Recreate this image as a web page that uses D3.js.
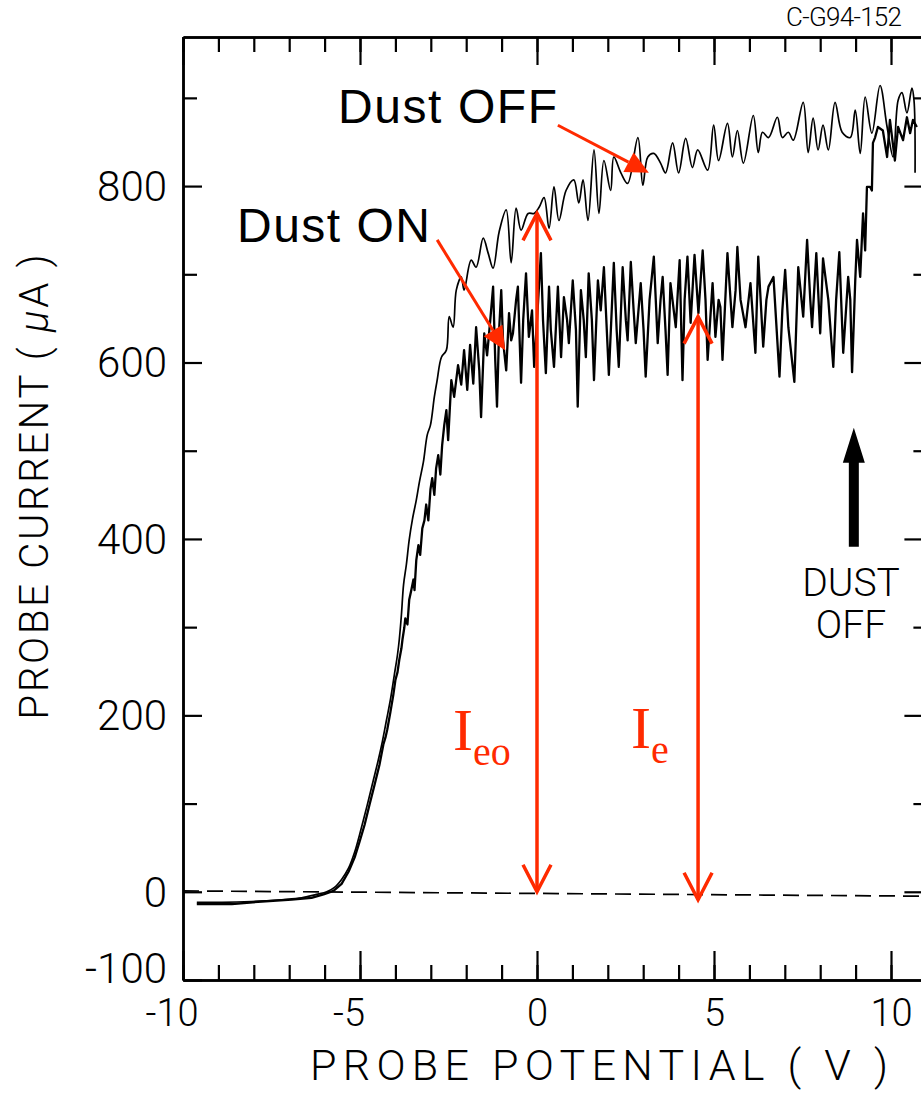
<!DOCTYPE html>
<html>
<head>
<meta charset="utf-8">
<script src="https://cdnjs.cloudflare.com/ajax/libs/d3/7.8.5/d3.min.js"></script>
<style>
  body { margin: 0; background: #fff; }
  svg { display: block; }
</style>
</head>
<body>
<div class="canvas"></div>
<script>
// ===========DATA=============================================
// probe potential (V), probe current (uA)
const dustOff = [
  [-9.61,-12],[-8.9,-12],[-8.06,-11],[-7.21,-9],[-6.65,-7],[-6.23,-3],[-5.94,0],[-5.72,5],
  [-5.52,14],[-5.32,27],[-5.15,45],[-5.01,65],[-4.9,82],[-4.76,104],[-4.62,127],[-4.48,150],
  [-4.37,170],[-4.25,195],[-4.14,218],[-4.03,246],[-3.94,269],[-3.89,286],[-3.83,314],[-3.77,348],
  [-3.69,371],[-3.61,399],[-3.52,422],[-3.41,444],[-3.32,465],[-3.21,487],[-3.1,518],[-3.01,529],
  [-2.9,561],[-2.82,580],[-2.7,606],[-2.56,614],[-2.48,652],[-2.37,640],[-2.28,682],[-2.14,697],
  [-2.06,682],[-1.86,716],[-1.72,708],[-1.52,741],[-1.38,724],[-1.24,707],[-1.07,748],[-0.87,773],
  [-0.73,713],[-0.59,775],[-0.45,750],[-0.25,769],[-0.08,769],[0.06,776],[0.2,787],[0.34,752],
  [0.48,799],[0.62,761],[0.82,795],[1.04,807],[1.18,781],[1.3,807],[1.44,761],[1.61,841],
  [1.75,769],[1.89,829],[2.08,795],[2.17,833],[2.37,815],[2.56,803],[2.85,855],[2.99,801],
  [3.13,833],[3.3,837],[3.49,826],[3.63,815],[3.83,849],[4.0,815],[4.2,854],[4.39,821],
  [4.54,841],[4.82,818],[4.99,869],[5.13,829],[5.38,871],[5.52,833],[5.66,863],[5.83,826],
  [6.11,880],[6.25,838],[6.37,861],[6.54,855],[6.79,878],[6.93,855],[7.1,861],[7.24,852],
  [7.52,895],[7.66,838],[7.8,877],[7.94,841],[8.08,869],[8.23,841],[8.42,895],[8.62,861],
  [8.85,855],[8.99,886],[9.13,837],[9.27,901],[9.46,860],[9.69,914],[9.89,867],[10.06,833],
  [10.2,897],[10.31,906],[10.45,883],[10.59,911],[10.65,897],[10.68,815]
];

const dustOn = [
  [-9.61,-14],[-8.62,-14],[-7.77,-11],[-6.93,-9],[-6.37,-7],[-6.03,-3],[-5.75,1],[-5.52,9],
  [-5.32,23],[-5.15,39],[-5.01,57],[-4.87,76],[-4.73,99],[-4.59,121],[-4.45,144],[-4.34,167],
  [-4.28,175],[-4.23,184],[-4.14,204],[-4.06,223],[-4.0,240],[-3.94,249],[-3.89,263],[-3.83,276],
  [-3.8,286],[-3.75,299],[-3.72,310],[-3.66,303],[-3.61,331],[-3.55,342],[-3.49,354],[-3.46,342],
  [-3.41,376],[-3.35,393],[-3.3,382],[-3.24,412],[-3.18,421],[-3.13,439],[-3.07,421],[-3.01,456],
  [-2.96,469],[-2.9,450],[-2.85,480],[-2.79,495],[-2.73,473],[-2.68,506],[-2.62,529],[-2.56,546],
  [-2.51,512],[-2.42,580],[-2.34,561],[-2.23,597],[-2.14,575],[-2.06,614],[-1.97,569],[-1.89,620],
  [-1.8,576],[-1.72,640],[-1.63,591],[-1.58,538],[-1.49,633],[-1.41,608],[-1.32,648],[-1.24,686],
  [-1.18,603],[-1.13,550],[-1.07,637],[-1.01,682],[-0.96,625],[-0.87,591],[-0.79,656],[-0.73,625],
  [-0.68,633],[-0.59,671],[-0.54,686],[-0.45,577],[-0.39,648],[-0.31,701],[-0.23,629],[-0.14,659],
  [-0.08,595],[0.0,648],[0.11,724],[0.17,648],[0.25,588],[0.34,686],[0.39,637],[0.48,595],
  [0.59,686],[0.68,606],[0.76,674],[0.85,648],[0.9,622],[1.01,693],[1.1,637],[1.15,550],
  [1.24,682],[1.32,648],[1.38,606],[1.46,701],[1.55,648],[1.61,580],[1.72,693],[1.8,659],
  [1.89,708],[2.03,586],[2.17,713],[2.25,637],[2.31,595],[2.42,708],[2.51,648],[2.56,625],
  [2.65,714],[2.73,659],[2.79,622],[2.93,690],[3.01,637],[3.07,584],[3.18,671],[3.3,720],
  [3.41,622],[3.49,671],[3.55,697],[3.63,637],[3.69,586],[3.77,690],[3.92,640],[4.03,716],
  [4.11,580],[4.17,671],[4.25,720],[4.34,645],[4.45,722],[4.56,656],[4.68,727],[4.76,671],
  [4.82,603],[4.96,690],[5.04,629],[5.13,671],[5.18,663],[5.24,603],[5.38,724],[5.52,640],
  [5.61,682],[5.66,731],[5.75,671],[5.89,640],[6.03,690],[6.17,611],[6.25,720],[6.39,618],
  [6.48,671],[6.54,686],[6.68,697],[6.85,584],[6.93,659],[7.01,705],[7.1,640],[7.27,578],
  [7.38,708],[7.52,652],[7.63,739],[7.72,671],[7.77,640],[7.89,724],[8.0,633],[8.08,718],
  [8.23,671],[8.37,595],[8.45,671],[8.54,725],[8.65,611],[8.79,697],[8.85,671],[8.9,589],
  [8.99,693],[9.04,739],[9.13,697],[9.21,769],[9.27,727],[9.32,799],[9.41,799],[9.46,795],
  [9.49,849],[9.55,855],[9.63,867],[9.77,863],[9.89,833],[9.97,875],[10.11,829],[10.2,867],
  [10.34,852],[10.45,878],[10.54,860],[10.62,875],[10.73,867]
];

// tick values
const xMajorTicks = [-10, -5, 0, 5, 10];
const xMinorTicks = d3.range(-10, 12);
const yLabelTicks = [-100, 0, 200, 400, 600, 800];
const yMinorTicks = [100, 300, 500, 700, 900];

// zero reference (dashed), slightly tilted like the recorder trace
const zeroLine = [[-10, 1], [11, -5]];

// I_eo and I_e measuring arrows (V, top uA, bottom uA)
const currentArrows = [
  {name: 'eo', v: 0, top: 769, bottom: 0},
  {name: 'e', v: 4.55, top: 652, bottom: -9}
];

// pointers from the "Dust OFF" / "Dust ON" labels to the traces
const pointers = [
  {from: [0.59, 869], to: [3.16, 815]},
  {from: [-2.82, 739], to: [-0.9, 614]}
];

// black "DUST OFF" marker arrow
const dustOffMarker = {v: 8.95, top: 526, bottom: 391};

// ===========SETUP=======================
const width = 921, height = 1093;
const red = '#ff2a00';
const axisFont = 'Roboto, "Liberation Sans", sans-serif';

const svg = d3.select('.canvas')
  .append('svg')
    .attr('width', width)
    .attr('height', height);

svg.append('rect').attr('width', width).attr('height', height).attr('fill', '#fff');

const x = d3.scaleLinear().domain([-10, 11]).range([183, 926.4]);
const y = d3.scaleLinear().domain([-100, 969]).range([980, 37]);

// ===========AXES (ticks point inward)=======================
const styleAxis = (g) => {
  g.select('.domain').attr('stroke-width', 2.5);
  g.selectAll('.tick line').attr('stroke-width', 2.2);
  g.attr('font-family', axisFont).attr('font-weight', 300);
};

// bottom
svg.append('g')
  .attr('transform', `translate(0, ${y(-100)})`)
  .call(d3.axisBottom(x).tickValues(xMinorTicks).tickSize(-15).tickSizeOuter(0).tickFormat(''))
  .call(styleAxis);
const xAxisGroup = svg.append('g')
  .attr('transform', `translate(0, ${y(-100)})`)
  .call(d3.axisBottom(x).tickValues(xMajorTicks).tickSize(-29).tickSizeOuter(0)
    .tickPadding(19).tickFormat(d => String(d)))
  .call(styleAxis)
  .attr('font-size', 38);
xAxisGroup.selectAll('text')
  .attr('fill', '#000')
  .attr('dx', d => d < 0 ? '-0.3em' : 0);

// top
svg.append('g')
  .attr('transform', `translate(0, ${y(969)})`)
  .call(d3.axisTop(x).tickValues(xMinorTicks).tickSize(-15).tickSizeOuter(0).tickFormat(''))
  .call(styleAxis);
svg.append('g')
  .attr('transform', `translate(0, ${y(969)})`)
  .call(d3.axisTop(x).tickValues(xMajorTicks).tickSize(-28).tickSizeOuter(0).tickFormat(''))
  .call(styleAxis);

// left
svg.append('g')
  .attr('transform', `translate(${x(-10)}, 0)`)
  .call(d3.axisLeft(y).tickValues(yMinorTicks).tickSize(-14).tickSizeOuter(0).tickFormat(''))
  .call(styleAxis);
const yAxisGroup = svg.append('g')
  .attr('transform', `translate(${x(-10)}, 0)`)
  .call(d3.axisLeft(y).tickValues(yLabelTicks).tickSize(-19).tickSizeOuter(0)
    .tickPadding(16).tickFormat(d => String(d)))
  .call(styleAxis)
  .attr('font-size', 42);
yAxisGroup.selectAll('text')
  .attr('fill', '#000')
  .attr('dy', d => d === -100 ? '0.05em' : '0.34em');

// right (mostly outside the picture)
svg.append('g')
  .attr('transform', `translate(${x(11)}, 0)`)
  .call(d3.axisRight(y).tickValues(yMinorTicks).tickSize(-13).tickSizeOuter(0).tickFormat(''))
  .call(styleAxis);
svg.append('g')
  .attr('transform', `translate(${x(11)}, 0)`)
  .call(d3.axisRight(y).tickValues(yLabelTicks.slice(1)).tickSize(-22).tickSizeOuter(0).tickFormat(''))
  .call(styleAxis);

// axis titles
svg.append('text')
  .attr('x', 310).attr('y', 1080)
  .attr('font-family', axisFont).attr('font-weight', 300).attr('font-size', 43)
  .attr('textLength', 578).attr('lengthAdjust', 'spacing')
  .text('PROBE POTENTIAL ( V )');

const yTitle = svg.append('text')
  .attr('transform', 'translate(48, 487) rotate(-90)')
  .attr('text-anchor', 'middle')
  .attr('font-family', axisFont).attr('font-weight', 300).attr('font-size', 40)
  .attr('textLength', 465).attr('lengthAdjust', 'spacing');
yTitle.append('tspan').text('PROBE CURRENT ( ');
yTitle.append('tspan').attr('font-style', 'italic').text('\u03bc');
yTitle.append('tspan').text('A )');

svg.append('text')
  .attr('x', 786).attr('y', 26)
  .attr('font-family', axisFont).attr('font-weight', 300).attr('font-size', 26)
  .attr('textLength', 116).attr('lengthAdjust', 'spacing')
  .text('C-G94-152');

// ===========ZERO LINE=======================
const line = d3.line().x(d => x(d[0])).y(d => y(d[1]));
const smoothLine = d3.line().x(d => x(d[0])).y(d => y(d[1])).curve(d3.curveCatmullRom.alpha(0.5));

svg.append('path')
  .attr('d', line(zeroLine))
  .attr('fill', 'none')
  .attr('stroke', '#000')
  .attr('stroke-width', 1.7)
  .attr('stroke-dasharray', '16,8');

// ===========TRACES=======================
svg.append('path')
  .attr('d', line(dustOn))
  .attr('fill', 'none')
  .attr('stroke', '#000')
  .attr('stroke-width', 2.3)
  .attr('stroke-linejoin', 'round');

svg.append('path')
  .attr('d', smoothLine(dustOff))
  .attr('fill', 'none')
  .attr('stroke', '#000')
  .attr('stroke-width', 1.7)
  .attr('stroke-linejoin', 'round');

// ===========ANNOTATIONS=======================
const labelFont = '"Liberation Sans", Arial, sans-serif';
svg.append('text')
  .attr('x', 338).attr('y', 123)
  .attr('font-family', labelFont).attr('font-size', 48)
  .attr('textLength', 219).attr('lengthAdjust', 'spacing')
  .text('Dust OFF');
svg.append('text')
  .attr('x', 237).attr('y', 242)
  .attr('font-family', labelFont).attr('font-size', 48)
  .attr('textLength', 193).attr('lengthAdjust', 'spacing')
  .text('Dust ON');

// red pointers with solid triangle heads
pointers.forEach(p => {
  const x0 = x(p.from[0]), y0 = y(p.from[1]);
  const x1 = x(p.to[0]), y1 = y(p.to[1]);
  const len = Math.hypot(x1 - x0, y1 - y0);
  const ux = (x1 - x0) / len, uy = (y1 - y0) / len;
  const bx = x1 - 23 * ux, by = y1 - 23 * uy;
  svg.append('line')
    .attr('x1', x0).attr('y1', y0).attr('x2', bx).attr('y2', by)
    .attr('stroke', red).attr('stroke-width', 3);
  svg.append('path')
    .attr('d', `M${x1},${y1}L${bx - 11 * uy},${by + 11 * ux}L${bx + 11 * uy},${by - 11 * ux}Z`)
    .attr('fill', red);
});

// I_eo / I_e double arrows
currentArrows.forEach(a => {
  const ax = x(a.v), ty = y(a.top), by = y(a.bottom);
  svg.append('line')
    .attr('x1', ax).attr('x2', ax).attr('y1', ty).attr('y2', by)
    .attr('stroke', red).attr('stroke-width', 3.5);
  svg.append('path')
    .attr('d', `M${ax - 14},${ty + 27}L${ax},${ty}L${ax + 14},${ty + 27}` +
               `M${ax - 14},${by - 27}L${ax},${by}L${ax + 14},${by - 27}`)
    .attr('fill', 'none').attr('stroke', red).attr('stroke-width', 3.5);
});

const serif = '"Liberation Serif", "Times New Roman", serif';
const ieo = svg.append('text')
  .attr('x', 453).attr('y', 750)
  .attr('font-family', serif).attr('fill', red).attr('font-size', 60);
ieo.append('tspan').text('I');
ieo.append('tspan').attr('font-size', 40).attr('dy', 15).text('eo');

const ie = svg.append('text')
  .attr('x', 631).attr('y', 748)
  .attr('font-family', serif).attr('fill', red).attr('font-size', 60);
ie.append('tspan').text('I');
ie.append('tspan').attr('font-size', 40).attr('dy', 15).text('e');

// black DUST OFF marker
const mx = x(dustOffMarker.v), mTop = y(dustOffMarker.top), mBot = y(dustOffMarker.bottom);
svg.append('path')
  .attr('d', `M${mx},${mTop}L${mx + 11},${mTop + 35}L${mx + 5},${mTop + 35}L${mx + 5},${mBot}` +
             `L${mx - 5},${mBot}L${mx - 5},${mTop + 35}L${mx - 11},${mTop + 35}Z`)
  .attr('fill', '#000');

svg.append('text')
  .attr('x', 851).attr('y', 596)
  .attr('text-anchor', 'middle')
  .attr('font-family', axisFont).attr('font-weight', 300).attr('font-size', 39)
  .text('DUST');
svg.append('text')
  .attr('x', 851).attr('y', 638)
  .attr('text-anchor', 'middle')
  .attr('font-family', axisFont).attr('font-weight', 300).attr('font-size', 39)
  .text('OFF');
</script>
</body>
</html>
